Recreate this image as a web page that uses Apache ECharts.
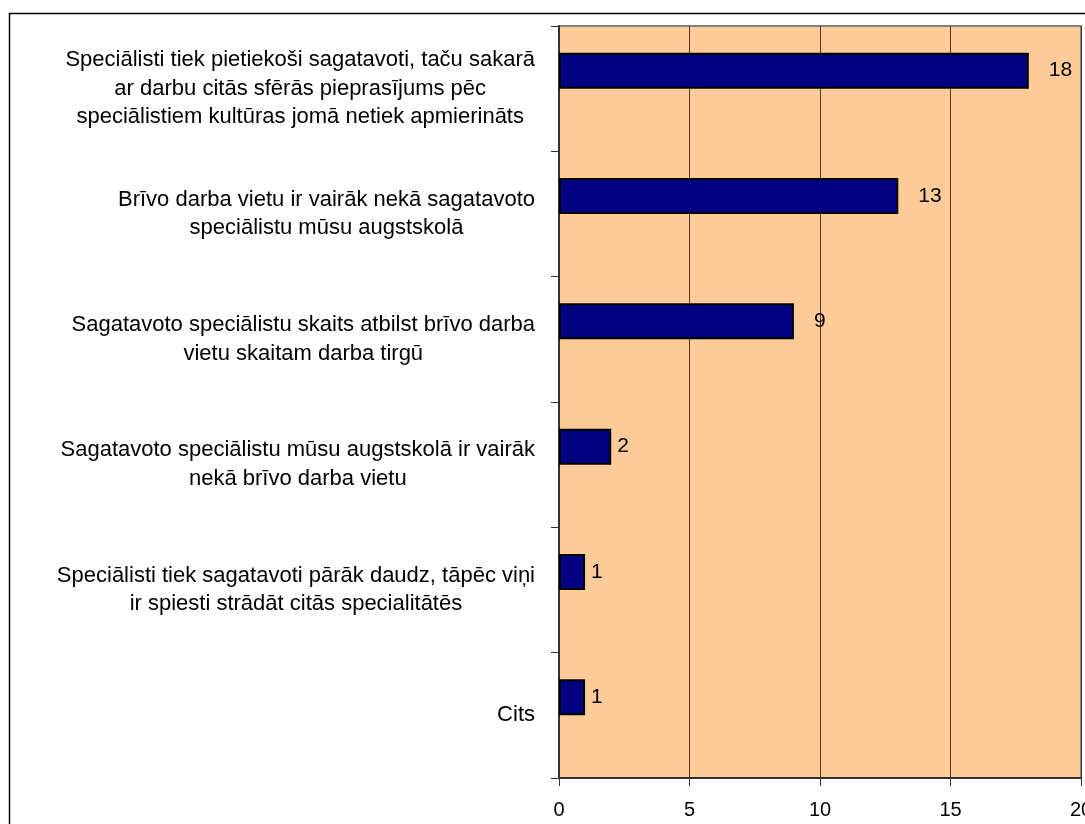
<!DOCTYPE html>
<html>
<head>
<meta charset="utf-8">
<script src="https://cdn.jsdelivr.net/npm/echarts@6/dist/echarts.min.js"></script>
<style>
  html, body { margin: 0; padding: 0; background: #fff; }
  #chart { width: 1085px; height: 824px; }
</style>
</head>
<body>
<div id="chart"></div>
<script>
// answers (top to bottom)
var categories = [
  'Speciālisti tiek pietiekoši sagatavoti, taču sakarā\nar darbu citās sfērās pieprasījums pēc\nspeciālistiem kultūras jomā netiek apmierināts',
  'Brīvo darba vietu ir vairāk nekā sagatavoto\nspeciālistu mūsu augstskolā',
  'Sagatavoto speciālistu skaits atbilst brīvo darba\nvietu skaitam darba tirgū',
  'Sagatavoto speciālistu mūsu augstskolā ir vairāk\nnekā brīvo darba vietu',
  'Speciālisti tiek sagatavoti pārāk daudz, tāpēc viņi\nir spiesti strādāt citās specialitātēs',
  'Cits'
];
var values = [18, 13, 9, 2, 1, 1];
var xTicks = [0, 5, 10, 15, 20];

var font = 'Liberation Sans, Arial, sans-serif';
var chart = echarts.init(document.getElementById('chart'));

var option = {
  animation: false,
  backgroundColor: '#fff',
  grid: {
    left: 559,
    top: 26,
    right: 4,
    bottom: 46,
    outerBoundsMode: 'none',
    containLabel: false,
    show: true,
    backgroundColor: '#FFCC99',
    borderColor: '#808080',
    borderWidth: 2
  },
  graphic: [{
    type: 'rect',
    z: -10,
    shape: { x: 9.5, y: 13.5, width: 1200, height: 900 },
    style: { fill: 'none', stroke: '#000', lineWidth: 1.5 }
  }],
  xAxis: {
    type: 'value',
    min: xTicks[0],
    max: xTicks[xTicks.length - 1],
    interval: 5,
    axisLine: { show: true, lineStyle: { color: '#333', width: 2 } },
    axisTick: { show: true, length: 8, lineStyle: { color: '#333' } },
    axisLabel: { color: '#000', fontSize: 20, fontFamily: font, margin: 22 },
    splitLine: { show: true, lineStyle: { color: '#4a3a2a', width: 1 } }
  },
  yAxis: {
    type: 'category',
    inverse: true,
    data: categories,
    axisLine: { show: true, lineStyle: { color: '#333', width: 2 } },
    axisTick: { show: true, length: 8, lineStyle: { color: '#333' } },
    axisLabel: {
      margin: 24,
      fontFamily: font,
      fontSize: 22,
      color: '#000',
      lineHeight: 28,
      formatter: function (v) {
        return v.split('\n').map(function (s) { return '{a|' + s + '}'; }).join('\n');
      },
      rich: { a: { align: 'center', fontSize: 22, fontFamily: font, color: '#000', lineHeight: 28.5 } }
    },
    splitLine: { show: false }
  },
  series: [
    {
      type: 'bar',
      // excel puts the labels of long bars a bit further out
      data: values.map(function (v) {
        return { value: v, label: { distance: v >= 5 ? 20 : 6 } };
      }),
      barWidth: 36,
      barGap: '0%',
      itemStyle: { color: '#000080', borderColor: '#000', borderWidth: 2 },
      label: {
        show: true,
        position: 'right',
        color: '#000',
        fontSize: 21,
        fontFamily: font
      }
    },
    {
      type: 'bar',
      data: values.map(function () { return '-'; }),
      barWidth: 36,
      barGap: '0%'
    }
  ]
};
chart.setOption(option);
</script>
</body>
</html>
